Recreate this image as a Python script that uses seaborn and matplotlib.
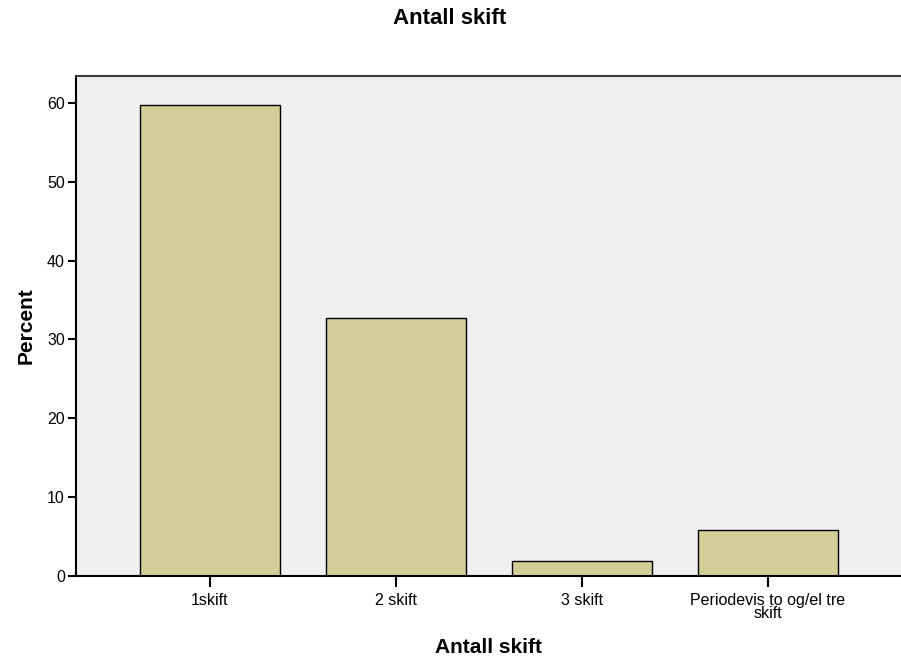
import pandas as pd
import seaborn as sns
import matplotlib.pyplot as plt

# data
categories = ['1skift', '2 skift', '3 skift', 'Periodevis to og/el tre\nskift']
percent = [59.7, 32.7, 1.9, 5.8]

df = pd.DataFrame({'skift': categories, 'percent': percent})

sns.set_style('white')
plt.rcParams['font.family'] = ['Liberation Sans', 'DejaVu Sans']
plt.rcParams['text.color'] = 'black'
plt.rcParams['axes.labelcolor'] = 'black'
plt.rcParams['xtick.color'] = 'black'
plt.rcParams['ytick.color'] = 'black'

fig = plt.figure(figsize=(9.01, 6.58), dpi=100)
ax = fig.add_axes([0.0844, 0.1246, 0.9156, 0.7599])
ax.set_facecolor('#F0F0F0')

sns.barplot(data=df, x='skift', y='percent', color='#D3CE97', saturation=1,
            width=0.753, edgecolor='black', linewidth=1.0, ax=ax)

ax.set_xlim(-0.72, 3.715)
ax.set_ylim(0, 63.4)
ax.set_yticks([0, 10, 20, 30, 40, 50, 60])

# title centred on the whole figure
fig.text(0.4995, 0.972, 'Antall skift', ha='center', va='center',
         fontsize=16, fontweight='bold')
ax.set_xlabel('Antall skift', fontsize=15, fontweight='bold', labelpad=12)
ax.set_ylabel('Percent', fontsize=15, fontweight='bold', labelpad=8)

ax.tick_params(axis='y', direction='out', length=6, width=1.5, labelsize=11.5,
               left=True, pad=2)
ax.tick_params(axis='x', direction='out', length=8, width=1.5, labelsize=11.5,
               bottom=True, pad=4)
for lab in ax.get_xticklabels():
    lab.set_linespacing(0.85)

for side in ['left', 'bottom']:
    ax.spines[side].set_color('black')
    ax.spines[side].set_linewidth(1.5)
ax.spines['top'].set_color('#3a3a3a')
ax.spines['top'].set_linewidth(1.5)
ax.spines['right'].set_visible(False)

fig.savefig('out.png', dpi=100)
